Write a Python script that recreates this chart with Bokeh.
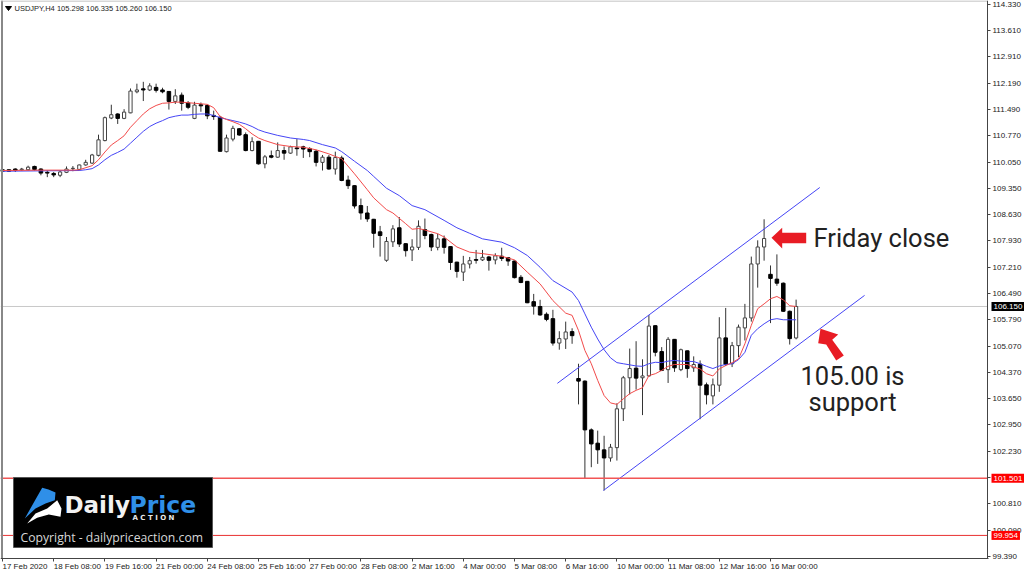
from bokeh.plotting import figure
from bokeh.models import Range1d, Label, LinearAxis, FixedTicker, ColumnDataSource
from bokeh.embed import file_html
from bokeh.resources import INLINE

opens = [109.85,109.85,109.87,109.85,109.85,109.94,109.87,109.78,109.75,109.70,109.78,109.88,109.86,109.98,110.03,110.24,110.64,111.25,111.36,111.24,111.39,111.96,112.04,112.01,112.08,112.01,111.97,111.70,111.87,111.66,111.24,111.61,111.59,111.32,111.27,110.34,110.68,110.96,110.80,110.37,110.62,110.01,110.23,110.19,110.37,110.30,110.44,110.47,110.42,110.35,110.05,110.19,109.87,110.17,109.57,109.42,108.88,108.68,108.51,108.17,107.40,107.90,108.28,107.85,107.68,107.75,108.23,108.10,107.75,107.98,107.77,107.35,107.08,107.30,107.42,107.41,107.49,107.41,107.51,107.47,107.38,106.94,106.83,106.28,106.15,105.94,105.82,105.16,105.27,105.47,104.20,104.13,102.81,102.45,102.27,102.05,102.33,103.38,104.22,104.48,104.22,104.27,105.63,104.93,104.44,105.26,104.44,104.95,104.49,104.59,104.03,103.73,104.02,105.30,104.60,105.09,105.57,105.84,107.30,107.76,107.02,106.89,106.78,106.02,105.298]
highs = [109.87,109.86,109.89,109.90,109.96,109.96,109.89,109.83,109.79,109.83,109.94,109.95,109.99,110.12,110.28,110.80,111.29,111.61,111.38,111.49,112.05,112.18,112.23,112.19,112.18,112.07,111.98,112.03,111.94,111.71,111.69,111.67,111.62,111.45,111.31,110.80,111.04,110.98,110.86,110.73,110.63,110.25,110.37,110.59,110.48,110.50,110.68,110.50,110.46,110.39,110.25,110.25,110.34,110.23,109.69,109.43,109.07,108.87,108.52,108.33,108.03,108.35,108.57,107.86,107.97,108.48,108.53,108.12,108.12,108.07,107.78,107.36,107.52,107.49,107.68,107.68,107.52,107.59,107.74,107.49,107.39,107.00,106.84,106.49,106.33,105.99,106.06,105.48,105.74,105.56,104.60,104.15,102.85,102.79,102.65,102.43,103.53,104.27,105.01,105.21,104.72,105.92,105.64,105.05,105.32,105.27,105.01,104.96,104.80,104.69,104.09,104.20,105.86,106.11,105.19,105.66,106.22,107.50,107.94,108.51,107.26,107.56,106.80,106.04,106.335]
lows = [109.72,109.80,109.79,109.82,109.83,109.83,109.70,109.65,109.65,109.65,109.76,109.81,109.83,109.96,110.01,110.21,110.62,111.22,111.09,111.22,111.38,111.92,111.71,111.98,111.94,111.92,111.48,111.63,111.45,111.49,111.22,111.42,111.22,111.20,110.34,110.32,110.62,110.77,110.35,110.35,109.99,109.89,110.16,110.17,110.12,110.28,110.23,110.17,110.19,109.94,109.83,109.85,109.72,109.54,109.33,108.80,108.50,108.44,107.74,107.50,107.36,107.76,107.76,107.50,107.38,107.68,107.97,107.65,107.67,107.58,107.14,106.93,106.84,107.18,107.31,107.38,107.12,107.29,107.38,107.25,106.91,106.78,106.24,105.93,105.90,105.75,105.09,104.98,105.00,105.14,103.50,101.50,101.80,101.89,101.17,101.95,101.98,103.05,103.77,103.90,103.21,104.25,104.80,104.40,104.08,104.38,104.40,104.22,104.38,103.10,103.50,103.50,103.84,104.54,104.51,104.78,105.23,105.74,106.66,107.39,105.70,106.71,106.00,105.12,105.260]
closes = [109.81,109.81,109.83,109.87,109.92,109.86,109.76,109.76,109.71,109.79,109.87,109.89,109.98,110.05,110.25,110.66,111.26,111.34,111.24,111.41,111.98,112.01,112.01,112.12,112.00,111.96,111.70,111.85,111.65,111.54,111.60,111.58,111.31,111.29,110.35,110.71,110.97,110.79,110.37,110.61,110.01,110.20,110.19,110.37,110.30,110.47,110.42,110.41,110.34,110.05,110.19,109.87,110.18,109.56,109.42,108.87,108.68,108.52,108.13,108.07,107.91,108.25,107.84,107.66,107.76,108.32,108.07,107.76,107.98,107.75,107.34,107.10,107.30,107.39,107.40,107.48,107.40,107.52,107.45,107.38,106.93,106.80,106.25,106.16,105.92,105.80,105.16,105.28,105.46,105.36,104.13,102.81,102.43,102.27,102.05,102.34,103.38,104.22,104.47,104.21,104.27,105.62,104.91,104.42,105.26,104.49,104.98,104.47,104.58,104.02,103.76,104.03,105.30,104.58,105.09,105.59,105.84,107.30,107.76,107.99,106.91,106.78,106.02,105.28,106.150]

red_x = [0,6,11,12,14,15,16,17,18,19,20,21,22,23,24,25,26,27,28,30,32,33,34,35,36,37,38,39,40,41,43,45,47,49,51,52,53,55,57,58,60,61,63,64,65,66,68,69,71,73,75,78,80,82,84,86,88,89,90,91,92,93,94,95,96,97,98,99,100,101,102,103,104,105,106,107,108,109,110,111,112,113,114,115,116,117,118,119,120,121,122,123,124]
red_y = [109.83,109.84,109.84,109.85,109.96,110.12,110.33,110.52,110.64,110.77,111.00,111.18,111.36,111.50,111.59,111.65,111.66,111.68,111.68,111.65,111.62,111.53,111.29,111.21,111.15,111.08,110.96,110.82,110.71,110.64,110.53,110.48,110.46,110.39,110.28,110.21,110.15,109.74,109.31,109.09,108.77,108.68,108.39,108.24,108.26,108.22,108.12,108.03,107.76,107.62,107.58,107.51,107.41,107.08,106.76,106.31,105.97,105.91,105.50,104.96,104.60,104.15,103.74,103.54,103.50,103.65,103.79,103.88,103.95,104.28,104.33,104.42,104.53,104.58,104.58,104.58,104.51,104.46,104.33,104.27,104.46,104.55,104.63,104.73,105.14,105.64,106.09,106.22,106.36,106.42,106.33,106.17,106.15]
blue_x = [0,12,13,14,15,16,17,18,19,20,21,22,23,24,25,26,27,28,29,30,31,32,33,34,35,36,37,38,39,40,41,43,45,47,48,50,52,53,55,57,58,60,62,64,66,69,71,73,75,78,80,82,84,86,89,90,91,92,93,94,95,96,97,99,100,101,102,103,104,105,106,108,109,110,111,112,113,114,115,116,117,118,119,120,121,122,123,124]
blue_y = [109.81,109.83,109.85,109.88,109.98,110.12,110.24,110.32,110.41,110.57,110.73,110.89,111.02,111.11,111.18,111.26,111.30,111.33,111.33,111.35,111.36,111.36,111.32,111.26,111.22,111.18,111.14,111.09,111.02,110.93,110.87,110.78,110.71,110.67,110.64,110.53,110.44,110.34,110.08,109.83,109.67,109.35,109.15,108.88,108.77,108.48,108.28,108.13,107.98,107.89,107.74,107.53,107.21,106.85,106.54,106.31,105.95,105.59,105.27,104.98,104.76,104.63,104.60,104.54,104.53,104.60,104.64,104.63,104.67,104.69,104.67,104.66,104.60,104.53,104.47,104.54,104.58,104.60,104.71,104.91,105.37,105.55,105.68,105.79,105.82,105.79,105.79,105.79]

channel_x = [86.7,127.7]
channel_upper = [104.07,109.37]
channel2_x = [93.9,134.7]
channel_lower = [101.17,106.45]

price_ticks = [114.33,113.61,112.91,112.19,111.49,110.77,110.05,109.35,108.63,107.93,107.21,106.49,105.79,105.07,104.37,103.65,102.95,102.23,101.53,100.81,100.09,99.39]
price_labels = ["114.330","113.610","112.910","112.190","111.490","110.770","110.050","109.350","108.630","107.930","107.210","106.490","105.790","105.070","104.370","103.650","102.950","102.230","101.530","100.810","100.090","99.390"]
date_ticks = [0,8,16,24,32,40,48,56,64,72,80,88,96,104,112,120]
date_labels = ["17 Feb 2020","18 Feb 08:00","19 Feb 16:00","21 Feb 00:00","24 Feb 08:00","25 Feb 16:00","27 Feb 00:00","28 Feb 08:00","2 Mar 16:00","4 Mar 00:00","5 Mar 08:00","6 Mar 16:00","10 Mar 00:00","11 Mar 08:00","12 Mar 16:00","16 Mar 00:00"]
level_support = 101.501
level_stop = 99.954
last_price = 106.150
title_text = "USDJPY,H4  105.298 106.335 105.260 106.150"

# ------------------------------------------------------------------
# The frame fills the whole picture; the axes sit inside it at fixed places.
W, H = 1024, 575
X0, X1 = -0.3125, 159.6875
Y1, Y0 = 114.431, 98.869

def X(px):
    return X0 + px / W * (X1 - X0)

def Y(py):
    return Y1 - py / H * (Y1 - Y0)

p = figure(frame_width=W, frame_height=H, x_range=Range1d(X0, X1), y_range=Range1d(Y0, Y1),
           output_backend="svg", toolbar_location=None, x_axis_location=None, y_axis_location=None,
           min_border=0)
p.grid.visible = False
p.outline_line_color = None
p.background_fill_color = "white"
p.border_fill_color = "white"

AXC = "#444444"
xa = LinearAxis(ticker=FixedTicker(ticks=date_ticks), fixed_location=Y(558),
                bounds=(X(0), X(988)), major_label_overrides={t: "" for t in date_ticks})
xa.major_tick_in = 0
xa.major_tick_out = 3
xa.minor_tick_line_color = None
xa.axis_line_color = AXC
xa.major_tick_line_color = AXC
xa.major_label_text_font_size = "1px"
p.add_layout(xa, "below")

ya = LinearAxis(ticker=FixedTicker(ticks=price_ticks), fixed_location=X(987),
                bounds=(Y(558), Y(0)), major_label_overrides=dict(zip(price_ticks, price_labels)))
ya.major_tick_in = 0
ya.major_tick_out = 3
ya.minor_tick_line_color = None
ya.axis_line_color = AXC
ya.major_tick_line_color = AXC
ya.major_label_standoff = 2
ya.major_label_text_font = "Liberation Sans"
ya.major_label_text_font_size = "8px"
ya.major_label_text_color = "#222222"
p.add_layout(ya, "right")

p.line([X(0), X(987)], [last_price, last_price], line_color="#c8c8c8", line_width=1, level="underlay")

idx = list(range(len(opens)))
up = [i for i in idx if closes[i] >= opens[i]]
dn = [i for i in idx if closes[i] < opens[i]]
def src(ids):
    return ColumnDataSource(dict(x=ids, o=[opens[i] for i in ids], c=[closes[i] for i in ids],
                                 h=[highs[i] for i in ids], l=[lows[i] for i in ids]))
su, sd = src(up), src(dn)
p.segment("x", "h", "x", "l", source=su, color="#333333", line_width=1)
p.segment("x", "h", "x", "l", source=sd, color="#333333", line_width=1)
p.vbar("x", 0.5, "o", "c", source=su, fill_color="white", line_color="#444444", line_width=1)
p.vbar("x", 0.55, "o", "c", source=sd, fill_color="black", line_color="black", line_width=1)

p.line(blue_x, blue_y, line_color="#4545f5", line_width=1)
p.line(red_x, red_y, line_color="#f24a4a", line_width=1)
p.line(channel_x, channel_upper, line_color="#4545f5", line_width=1)
p.line(channel2_x, channel_lower, line_color="#4545f5", line_width=1)

# horizontal levels
p.line([X(0), X(987)], [level_support, level_support], line_color="#f25555", line_width=1.3)
p.line([X(0), X(987)], [level_stop, level_stop], line_color="#e83030", line_width=1)
# left and top edges
p.line([X(1.5), X(1.5)], [Y(0), Y(558)], line_color="#888888", line_width=2)
p.line([X(0), X(987)], [Y(0.5), Y(0.5)], line_color="#b0b0b0", line_width=1)

FONT = "Liberation Sans"
# date labels, left aligned on their ticks
for t, s in zip(date_ticks, date_labels):
    p.add_layout(Label(x=t, y=Y(566), text=s, text_font=FONT, text_font_size="8px", text_color="#222222",
                       text_align="left", text_baseline="middle"))

# title
p.patch([X(5), X(11), X(8)], [Y(6), Y(6), Y(10)], color="black", level="annotation")
p.add_layout(Label(x=X(14), y=Y(8), text=title_text, text_font=FONT, text_font_size="7.5px", text_color="#222222",
                   text_align="left", text_baseline="middle"))

# price tags
def tag(price, text, color):
    p.add_layout(Label(x=X(991), y=price, text=text, text_font=FONT, text_font_size="8px", text_color="white",
                       text_align="left", text_baseline="middle", background_fill_color=color,
                       padding=2))
tag(last_price, "106.150", "black")
tag(level_support, "101.501", "#ff0000")
tag(level_stop, "99.954", "#ff0000")

# arrows
ARROW = "#e81c24"
a1 = [(771,237.3),(781.7,227.3),(781.7,232.3),(805.7,232.3),(805.7,242.7),(781.7,242.7),(781.7,248)]
a2 = [(820,328.3),(837.7,334),(831.7,339.3),(843.3,355),(835.7,360),(825.7,344),(817.7,342.7)]
for a in (a1, a2):
    p.patch([X(q[0]) for q in a], [Y(q[1]) for q in a], color=ARROW, line_width=0, level="annotation")

ANN = "Roboto"
p.add_layout(Label(x=X(813), y=Y(237), text="Friday close", text_font=ANN, text_font_size="25.5px",
                   text_color="#222222", text_align="left", text_baseline="middle"))
p.add_layout(Label(x=X(852), y=Y(375), text="105.00 is", text_font=ANN, text_font_size="25.5px",
                   text_color="#222222", text_align="center", text_baseline="middle"))
p.add_layout(Label(x=X(852), y=Y(401), text="support", text_font=ANN, text_font_size="25.5px",
                   text_color="#222222", text_align="center", text_baseline="middle"))

# logo
p.quad(left=X(13), right=X(212), top=Y(477), bottom=Y(547), fill_color="black", line_color="#555555",
       line_width=1, level="annotation")
wing = [(24.3,518),(35,499),(41.7,487.3),(48,489),(55,492),(54.3,499.7),(45,503),(35,508)]
swoosh = [(26.7,523),(35,513),(46.7,508),(56.7,499.7),(61,508),(60,516.3),(48.3,514),(36.7,517.3)]
p.patch([X(q[0]) for q in wing], [Y(q[1]) for q in wing], color="#2f8fe8", line_width=0, level="annotation")
p.patch([X(q[0]) for q in swoosh], [Y(q[1]) for q in swoosh], color="white", line_width=0, level="annotation")
p.add_layout(Label(x=X(64), y=Y(504), text="Daily", text_font="DejaVu Sans", text_font_style="bold",
                   text_font_size="23px", text_color="#f2f2f2", text_align="left", text_baseline="middle"))
p.add_layout(Label(x=X(129), y=Y(504), text="Price", text_font="DejaVu Sans", text_font_style="bold",
                   text_font_size="23.5px", text_color="#2f8fe8", text_align="left", text_baseline="middle"))
p.add_layout(Label(x=X(132), y=Y(517), text="A   C   T   I   O   N", text_font="DejaVu Sans", text_font_style="bold",
                   text_font_size="7px", text_color="#e8e8e8", text_align="left", text_baseline="middle"))
p.add_layout(Label(x=X(20), y=Y(537), text="Copyright - dailypriceaction.com", text_font="Open Sans",
                   text_font_size="12.2px", text_color="#d8d8d8", text_align="left", text_baseline="middle"))

open("out.html", "w").write(file_html(p, INLINE))
